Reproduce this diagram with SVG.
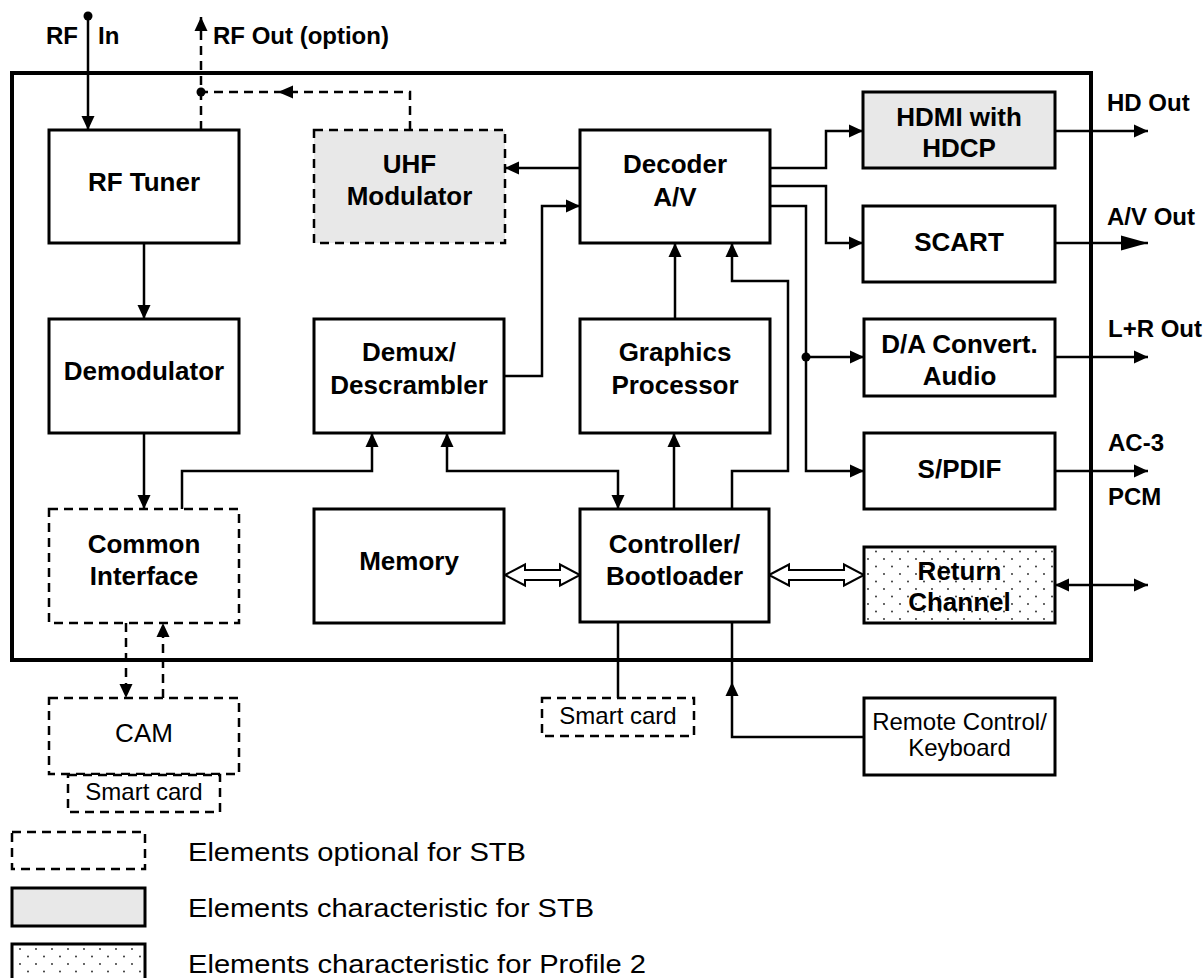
<svg xmlns="http://www.w3.org/2000/svg" width="1204" height="978" viewBox="0 0 1204 978">
<defs>
<style>
.box{fill:#fff;stroke:#000;stroke-width:3}
.opt{fill:#fff;stroke:#000;stroke-width:2.5;stroke-dasharray:9 6}
.gray{fill:#e8e8e8}
.dots{fill:url(#dots)}
.lbl{font-family:"Liberation Sans",Arial,sans-serif;font-weight:bold;font-size:26px;text-anchor:middle;fill:#000}
.reg{font-family:"Liberation Sans",Arial,sans-serif;font-size:24px;text-anchor:middle;fill:#000}
.cam{font-family:"Liberation Sans",Arial,sans-serif;font-size:26px;text-anchor:middle;fill:#000}
.out{font-family:"Liberation Sans",Arial,sans-serif;font-weight:bold;font-size:24px;fill:#000}
.leg{font-family:"Liberation Sans",Arial,sans-serif;font-size:26px;fill:#000}
.ln{fill:none;stroke:#000;stroke-width:2.5}
.dln{fill:none;stroke:#000;stroke-width:2.5;stroke-dasharray:9 6}
.ah{fill:#000}
.harrow{fill:#fff;stroke:#000;stroke-width:2}
</style>
<pattern id="dots" width="16" height="15" patternUnits="userSpaceOnUse">
<rect width="16" height="15" fill="#fff"/>
<circle cx="4" cy="4" r="0.9" fill="#222"/>
<circle cx="12" cy="11.5" r="0.9" fill="#222"/>
</pattern>
<marker id="arr" viewBox="0 0 14 14" refX="14" refY="7" markerWidth="14" markerHeight="14" markerUnits="userSpaceOnUse" orient="auto-start-reverse">
<path d="M0,0.5 L14,7 L0,13.5 Z" fill="#000"/>
</marker>
<marker id="arrL" viewBox="0 0 27 16" refX="27" refY="8" markerWidth="27" markerHeight="16" markerUnits="userSpaceOnUse" orient="auto">
<path d="M0,0.5 L27,8 L0,15.5 Z" fill="#000"/>
</marker>
</defs>
<rect width="1204" height="978" fill="#fff"/>
<rect id="frame" x="12" y="73" width="1079" height="587" fill="none" stroke="#000" stroke-width="4"/>

<g id="connectors">
<circle cx="88" cy="16" r="4.5" class="ah"/>
<path class="ln" d="M88,16 V130" marker-end="url(#arr)"/>
<path class="dln" d="M201,130 V17" marker-end="url(#arr)"/>
<circle cx="201" cy="92" r="4.5" class="ah"/>
<path class="dln" d="M410,130 V92 H201"/>
<polygon class="ah" points="278,92 293,85.5 293,98.5"/>
<path class="ln" d="M144,243 V319" marker-end="url(#arr)"/>
<path class="ln" d="M144,433 V509" marker-end="url(#arr)"/>
<path class="ln" d="M182,509 V471 H372 V433" marker-end="url(#arr)"/>
<path class="ln" d="M447,433 V471 H618 V509" marker-start="url(#arr)" marker-end="url(#arr)"/>
<path class="ln" d="M504,376 H542 V206 H580" marker-end="url(#arr)"/>
<path class="ln" d="M580,168 H505" marker-end="url(#arr)"/>
<path class="ln" d="M675,319 V243" marker-end="url(#arr)"/>
<path class="ln" d="M674,509 V433" marker-end="url(#arr)"/>
<path class="ln" d="M732,509 V471 H788 V281 H732 V243" marker-end="url(#arr)"/>
<path class="ln" d="M770,168 H826 V131 H863" marker-end="url(#arr)"/>
<path class="ln" d="M770,186 H826 V243 H863" marker-end="url(#arr)"/>
<path class="ln" d="M770,206 H806 V471 H864" marker-end="url(#arr)"/>
<path class="ln" d="M806,357 H864" marker-end="url(#arr)"/>
<circle cx="806" cy="357" r="4.5" class="ah"/>
<path class="ln" d="M1055,131 H1148" marker-end="url(#arr)"/>
<path class="ln" d="M1055,243 H1148" marker-end="url(#arrL)"/>
<path class="ln" d="M1055,357 H1148" marker-end="url(#arr)"/>
<path class="ln" d="M1055,471 H1148" marker-end="url(#arr)"/>
<path class="ln" d="M1055,585 H1148" marker-start="url(#arr)" marker-end="url(#arr)"/>
<polygon class="harrow" points="505,575 525,564.5 525,570 560,570 560,564.5 580,575 560,585.5 560,580 525,580 525,585.5"/>
<polygon class="harrow" points="769,575 789,564.5 789,570 844,570 844,564.5 864,575 844,585.5 844,580 789,580 789,585.5"/>
<path class="dln" d="M126,623 V698" marker-end="url(#arr)"/>
<path class="dln" d="M163,698 V623" marker-end="url(#arr)"/>
<path class="ln" d="M618,622 V698"/>
<path class="ln" d="M864,737 H732 V622"/>
<polygon class="ah" points="732,682 725.5,696 738.5,696"/>
</g>

<g id="labels-outside">
<text class="out" x="46" y="44">RF</text>
<text class="out" x="98" y="44">In</text>
<text class="out" x="213" y="44">RF Out (option)</text>
<text class="out" x="1107" y="111">HD Out</text>
<text class="out" x="1107" y="225">A/V Out</text>
<text class="out" x="1108" y="337">L+R Out</text>
<text class="out" x="1108" y="451">AC-3</text>
<text class="out" x="1108" y="505">PCM</text>
</g>

<g id="rf-tuner">
<rect class="box" x="49" y="130" width="190" height="113"/>
<text class="lbl" x="144" y="191">RF Tuner</text>
</g>
<g id="uhf-modulator">
<rect class="opt gray" x="314" y="130" width="191" height="113"/>
<text class="lbl" x="409.5" y="173">UHF</text>
<text class="lbl" x="409.5" y="205">Modulator</text>
</g>
<g id="decoder">
<rect class="box" x="580" y="130" width="190" height="113"/>
<text class="lbl" x="675" y="173">Decoder</text>
<text class="lbl" x="675" y="206">A/V</text>
</g>
<g id="hdmi">
<rect class="box gray" x="863" y="92" width="192" height="76"/>
<text class="lbl" x="959" y="126">HDMI with</text>
<text class="lbl" x="959" y="157">HDCP</text>
</g>
<g id="scart">
<rect class="box" x="863" y="206" width="192" height="76"/>
<text class="lbl" x="959" y="251">SCART</text>
</g>
<g id="da-convert">
<rect class="box" x="864" y="319" width="191" height="77"/>
<text class="lbl" x="959.5" y="353">D/A Convert.</text>
<text class="lbl" x="959.5" y="385">Audio</text>
</g>
<g id="spdif">
<rect class="box" x="864" y="433" width="191" height="76"/>
<text class="lbl" x="959.5" y="478">S/PDIF</text>
</g>
<g id="return-channel">
<rect class="box dots" x="864" y="547" width="191" height="76"/>
<text class="lbl" x="959.5" y="580">Return</text>
<text class="lbl" x="959.5" y="611">Channel</text>
</g>
<g id="demodulator">
<rect class="box" x="49" y="319" width="190" height="114"/>
<text class="lbl" x="144" y="380">Demodulator</text>
</g>
<g id="demux">
<rect class="box" x="314" y="319" width="190" height="114"/>
<text class="lbl" x="409" y="361">Demux/</text>
<text class="lbl" x="409" y="394">Descrambler</text>
</g>
<g id="graphics">
<rect class="box" x="580" y="319" width="190" height="114"/>
<text class="lbl" x="675" y="361">Graphics</text>
<text class="lbl" x="675" y="394">Processor</text>
</g>
<g id="common-interface">
<rect class="opt" x="49" y="509" width="190" height="114"/>
<text class="lbl" x="144" y="553">Common</text>
<text class="lbl" x="144" y="585">Interface</text>
</g>
<g id="memory">
<rect class="box" x="314" y="509" width="190" height="114"/>
<text class="lbl" x="409" y="570">Memory</text>
</g>
<g id="controller">
<rect class="box" x="580" y="509" width="189" height="113"/>
<text class="lbl" x="674.5" y="553">Controller/</text>
<text class="lbl" x="674.5" y="585">Bootloader</text>
</g>
<g id="cam">
<rect class="opt" x="49" y="698" width="190" height="76"/>
<text class="cam" x="144" y="742">CAM</text>
</g>
<g id="smart-card-cam">
<rect class="opt" x="68" y="775" width="152" height="37"/>
<text class="reg" x="144" y="800">Smart card</text>
</g>
<g id="smart-card-ctrl">
<rect class="opt" x="542" y="698" width="152" height="38"/>
<text class="reg" x="618" y="724">Smart card</text>
</g>
<g id="remote-control">
<rect class="box" x="864" y="698" width="191" height="77"/>
<text class="reg" x="959.5" y="730">Remote Control/</text>
<text class="reg" x="959.5" y="756">Keyboard</text>
</g>

<g id="legend">
<rect class="opt" x="12" y="832" width="133" height="37"/>
<rect class="box gray" x="12" y="888" width="133" height="38"/>
<rect class="box dots" x="12" y="944" width="133" height="40"/>
<text class="leg" x="188" y="861" textLength="338" lengthAdjust="spacingAndGlyphs">Elements optional for STB</text>
<text class="leg" x="188" y="917" textLength="406" lengthAdjust="spacingAndGlyphs">Elements characteristic for STB</text>
<text class="leg" x="188" y="973" textLength="458" lengthAdjust="spacingAndGlyphs">Elements characteristic for Profile 2</text>
</g>
</svg>
